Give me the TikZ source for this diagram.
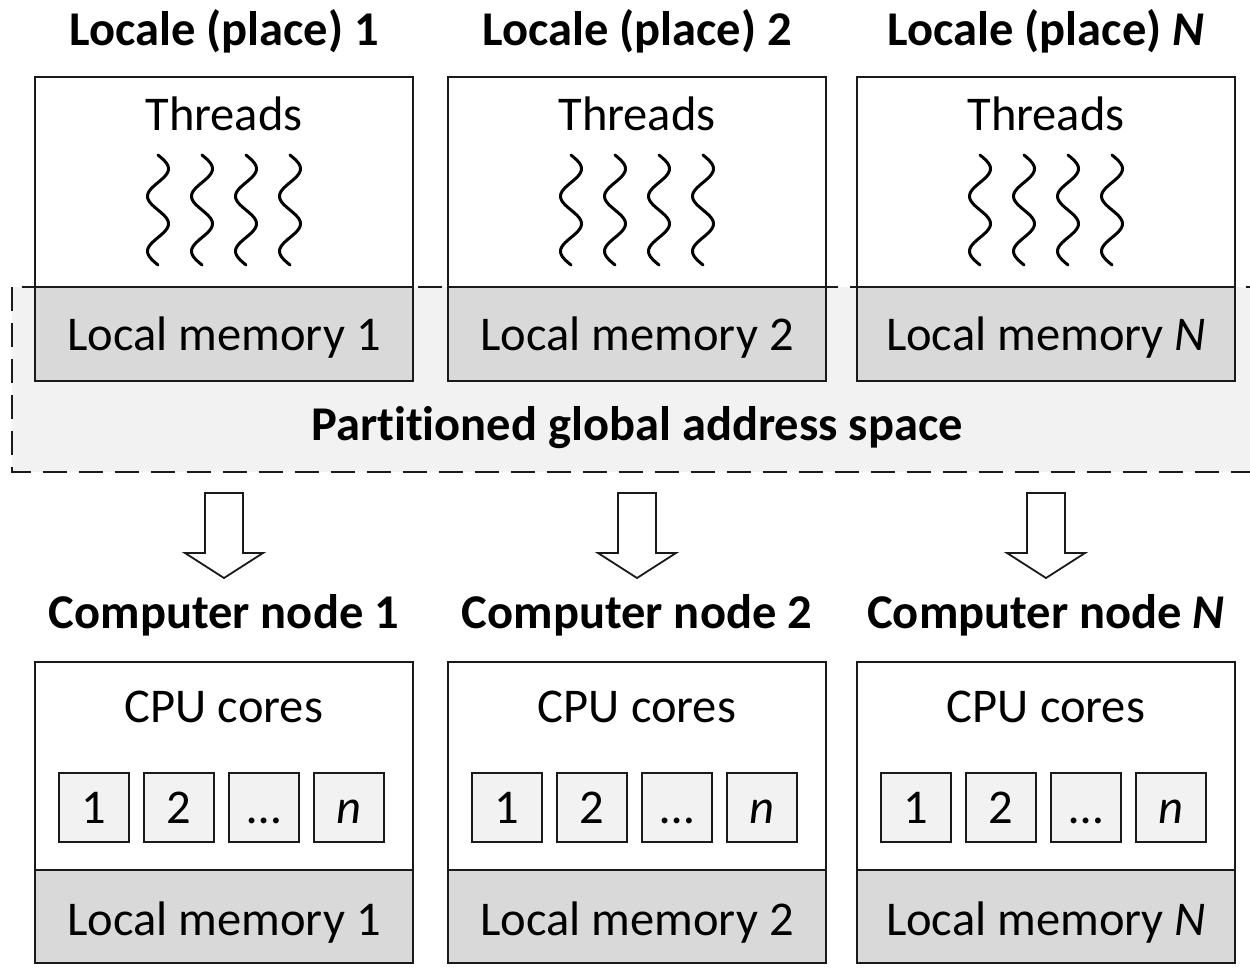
\documentclass[tikz,border=0pt]{standalone}
\usepackage{fontspec}
\setmainfont{Carlito}[Ligatures=NoCommon]
\definecolor{memgray}{HTML}{D9D9D9}
\definecolor{pgasgray}{HTML}{F2F2F2}
\definecolor{coregray}{HTML}{F2F2F2}
\definecolor{linegray}{HTML}{1A1A1A}
\begin{document}
\begin{tikzpicture}[x=1pt,y=-1pt,line width=2.4pt,
  txt/.style={font=\fontsize{48.5}{58}\selectfont,inner sep=0pt,anchor=base},
  ttl/.style={font=\fontsize{48.5}{58}\selectfont\bfseries,inner sep=0pt,anchor=base},
  pgasbox/.style={draw=linegray,fill=pgasgray,line width=2pt,dash pattern=on 24pt off 12pt},
  framebox/.style={draw=linegray,fill=white,line width=2.4pt},
  membox/.style={draw=linegray,fill=memgray,line width=2.4pt},
  corebox/.style={draw=linegray,fill=coregray,line width=1.8pt,minimum width=70pt,minimum height=69pt,
    inner sep=0pt,text height=31pt,text depth=0pt,font=\fontsize{48.5}{58}\selectfont},
  wave/.style={line width=3pt,line cap=round},
  blockarrow/.style={draw=linegray,fill=white,line width=1.8pt,line join=miter}]
\useasboundingbox (0,0) rectangle (1250,967);
\fill[white] (0,0) rectangle (1250,967);
% partitioned global address space
\draw[pgasbox] (12,287) rectangle (1266,472);
\node[ttl] (pgas) at (637,440) {Partitioned global address space};
\foreach \cx/\lab/\i in {224/1/a,637/2/b,1046/{\textit{N}}/c}{
  % locale
  \node[ttl] (loc\i) at (\cx,45) {Locale (place) \lab};
  \draw[framebox] (\cx-189,77) rectangle (\cx+189,287);
  \draw[membox] (\cx-189,287) rectangle (\cx+189,381);
  \node[txt] (thr\i) at (\cx,130) {Threads};
  \node[txt] (lm\i) at (\cx,350) {Local memory \lab};
  \foreach \dx in {-66,-22,22,66}{
    \draw[wave] plot[domain=0:110,samples=80,smooth] ({\cx+\dx+10.5*sin(\x/55*360)},{155+\x});
  }
  % block arrow
  \coordinate (ar\i) at (\cx,493);
  \draw[blockarrow] ([xshift=-19pt]ar\i) -- ([xshift=19pt]ar\i) -- ([xshift=19pt,yshift=-60pt]ar\i)
    -- ([xshift=39pt,yshift=-60pt]ar\i) -- ([yshift=-85pt]ar\i) -- ([xshift=-39pt,yshift=-60pt]ar\i)
    -- ([xshift=-19pt,yshift=-60pt]ar\i) -- cycle;
  % computer node
  \node[ttl] (cn\i) at (\cx,628) {Computer node \lab};
  \draw[framebox] (\cx-189,662) rectangle (\cx+189,870);
  \draw[membox] (\cx-189,870) rectangle (\cx+189,963);
  \node[txt] (cpu\i) at (\cx,722) {CPU cores};
  \node[txt] (bm\i) at (\cx,935) {Local memory \lab};
  \foreach \dx/\c/\k in {-130/1/1,-45/2/2,40/{…}/3,125/{\textit{n}}/4}{
    \node[corebox] (core\i\k) at (\cx+\dx,807.5) {\c};
  }
}
\end{tikzpicture}
\end{document}
